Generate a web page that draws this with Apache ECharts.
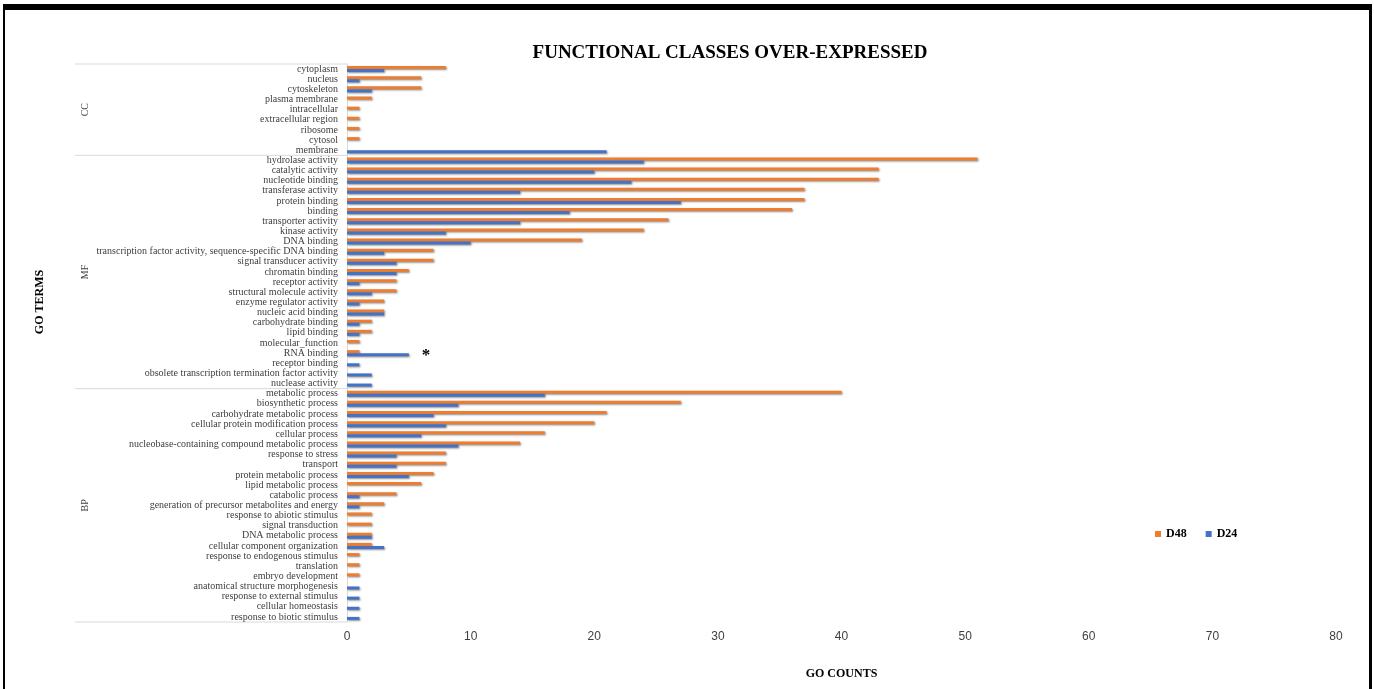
<!DOCTYPE html>
<html>
<head>
<meta charset="utf-8">
<script src="https://cdn.jsdelivr.net/npm/echarts@6/dist/echarts.min.js"></script>
<style>
  html, body { margin: 0; padding: 0; background: #fff; }
  #chart { width: 1374px; height: 689px; }
  #frame {
    position: absolute; left: 3px; top: 4px; width: 1364px; height: 700px;
    border-top: 6px solid #000; border-left: 2px solid #000; border-right: 3px solid #000;
    pointer-events: none;
  }
</style>
</head>
<body>
<div id="chart"></div>
<div id="frame"></div>
<script>
// GO terms, top to bottom as in the figure
const terms = [
    'cytoplasm', 'nucleus', 'cytoskeleton', 'plasma membrane', 'intracellular',
    'extracellular region', 'ribosome', 'cytosol', 'membrane',
    'hydrolase activity', 'catalytic activity', 'nucleotide binding', 'transferase activity',
    'protein binding', 'binding', 'transporter activity', 'kinase activity', 'DNA binding',
    'transcription factor activity, sequence-specific DNA binding', 'signal transducer activity',
    'chromatin binding', 'receptor activity', 'structural molecule activity',
    'enzyme regulator activity', 'nucleic acid binding', 'carbohydrate binding', 'lipid binding',
    'molecular_function', 'RNA binding', 'receptor binding',
    'obsolete transcription termination factor activity', 'nuclease activity',
    'metabolic process', 'biosynthetic process', 'carbohydrate metabolic process',
    'cellular protein modification process', 'cellular process',
    'nucleobase-containing compound metabolic process', 'response to stress', 'transport',
    'protein metabolic process', 'lipid metabolic process', 'catabolic process',
    'generation of precursor metabolites and energy', 'response to abiotic stimulus',
    'signal transduction', 'DNA metabolic process', 'cellular component organization',
    'response to endogenous stimulus', 'translation', 'embryo development',
    'anatomical structure morphogenesis', 'response to external stimulus',
    'cellular homeostasis', 'response to biotic stimulus'
];
const groups = ['CC', 'MF', 'BP'];
const groupSizes = [9, 23, 23];

const d48 = [
    8, 6, 6, 2, 1, 1, 1, 1, 0,
    51, 43, 43, 37, 37, 36, 26, 24, 19, 7, 7, 5, 4, 4, 3, 3, 2, 2, 1, 1, 0, 0, 0,
    40, 27, 21, 20, 16, 14, 8, 8, 7, 6, 4, 3, 2, 2, 2, 2, 1, 1, 1, 0, 0, 0, 0
];
const d24 = [
    3, 1, 2, 0, 0, 0, 0, 0, 21,
    24, 20, 23, 14, 27, 18, 14, 8, 10, 3, 4, 4, 1, 2, 1, 3, 1, 1, 0, 5, 1, 2, 2,
    16, 9, 7, 8, 6, 9, 4, 4, 5, 0, 1, 1, 0, 0, 2, 3, 0, 0, 0, 1, 1, 1, 1
];
const starred = ['RNA binding'];

const xMin = 0, xMax = 80, xStep = 10;

const serif = '"Liberation Serif", "Times New Roman", serif';
const barShadow = {
    shadowColor: 'rgba(0, 0, 0, 0.45)',
    shadowBlur: 2,
    shadowOffsetX: 1,
    shadowOffsetY: 1
};

const d24Data = d24.map((v, i) => {
    if (starred.indexOf(terms[i]) < 0) return v;
    return {
        value: v,
        label: {
            show: true, position: 'right', formatter: '*', offset: [8, 1],
            color: '#000', fontSize: 17, fontWeight: 'bold', fontFamily: serif
        }
    };
});

const chart = echarts.init(document.getElementById('chart'));
const option = {
    backgroundColor: '#fff',
    animation: false,
    title: {
        text: 'FUNCTIONAL CLASSES OVER-EXPRESSED',
        left: 725, top: 39, textAlign: 'center',
        textStyle: { fontFamily: serif, fontSize: 19, fontWeight: 'bold', color: '#000' }
    },
    legend: {
        data: ['D48', 'D24'],
        left: 1150, top: 523,
        itemWidth: 6, itemHeight: 6, itemGap: 19,
        icon: 'rect',
        textStyle: { fontFamily: serif, fontSize: 12, fontWeight: 'bold', color: '#000' }
    },
    grid: { left: 347, right: 38, top: 64, bottom: 67, containLabel: false, outerBoundsMode: 'none' },
    xAxis: {
        type: 'value', min: xMin, max: xMax, interval: xStep,
        name: 'GO COUNTS', nameLocation: 'middle', nameGap: 46,
        nameTextStyle: { fontFamily: serif, fontSize: 12, fontWeight: 'bold', color: '#000' },
        axisLine: { show: false }, axisTick: { show: false }, splitLine: { show: false },
        axisLabel: { color: '#404040', fontSize: 12, margin: 9, fontFamily: '"Liberation Sans", Arial, sans-serif' }
    },
    yAxis: {
        type: 'category', data: terms, inverse: true,
        axisLine: { show: true, lineStyle: { color: '#d9d9d9' } },
        axisTick: { show: false },
        axisLabel: { interval: 0, fontFamily: serif, fontSize: 10, color: '#404040', margin: 9 }
    },
    series: [
        {
            name: 'D48', type: 'bar', data: d48, barWidth: 3, barGap: '0%',
            itemStyle: Object.assign({ color: '#ED7D31' }, barShadow)
        },
        {
            name: 'D24', type: 'bar', data: d24Data, barWidth: 3, barGap: '0%',
            itemStyle: Object.assign({ color: '#4472C4' }, barShadow)
        }
    ]
};
chart.setOption(option);

// group brackets (CC / MF / BP) placed from the category axis
const yA = chart.convertToPixel({ yAxisIndex: 0 }, terms[0]);
const yB = chart.convertToPixel({ yAxisIndex: 0 }, terms[1]);
const band = yB - yA;
const gridLeft = chart.convertToPixel({ xAxisIndex: 0 }, xMin);
const edge = idx => yA + (idx - 0.5) * band;
const graphics = [{
    type: 'line', shape: { x1: 75, y1: edge(0), x2: gridLeft, y2: edge(0) },
    style: { stroke: '#d9d9d9', lineWidth: 1 }
}, {
    type: 'text', x: 40, y: 302, rotation: Math.PI / 2,
    style: {
        text: 'GO TERMS', fill: '#000', font: 'bold 12px ' + serif,
        align: 'center', verticalAlign: 'middle'
    }
}];
let start = 0;
groups.forEach((g, k) => {
    const end = start + groupSizes[k];
    graphics.push({
        type: 'line', shape: { x1: 75, y1: edge(end), x2: gridLeft, y2: edge(end) },
        style: { stroke: '#d9d9d9', lineWidth: 1 }
    });
    graphics.push({
        type: 'text', x: 85, y: (edge(start) + edge(end)) / 2, rotation: Math.PI / 2,
        style: {
            text: g, fill: '#404040', font: '10px ' + serif,
            align: 'center', verticalAlign: 'middle'
        }
    });
    start = end;
});
chart.setOption({ graphic: graphics });
</script>
</body>
</html>
